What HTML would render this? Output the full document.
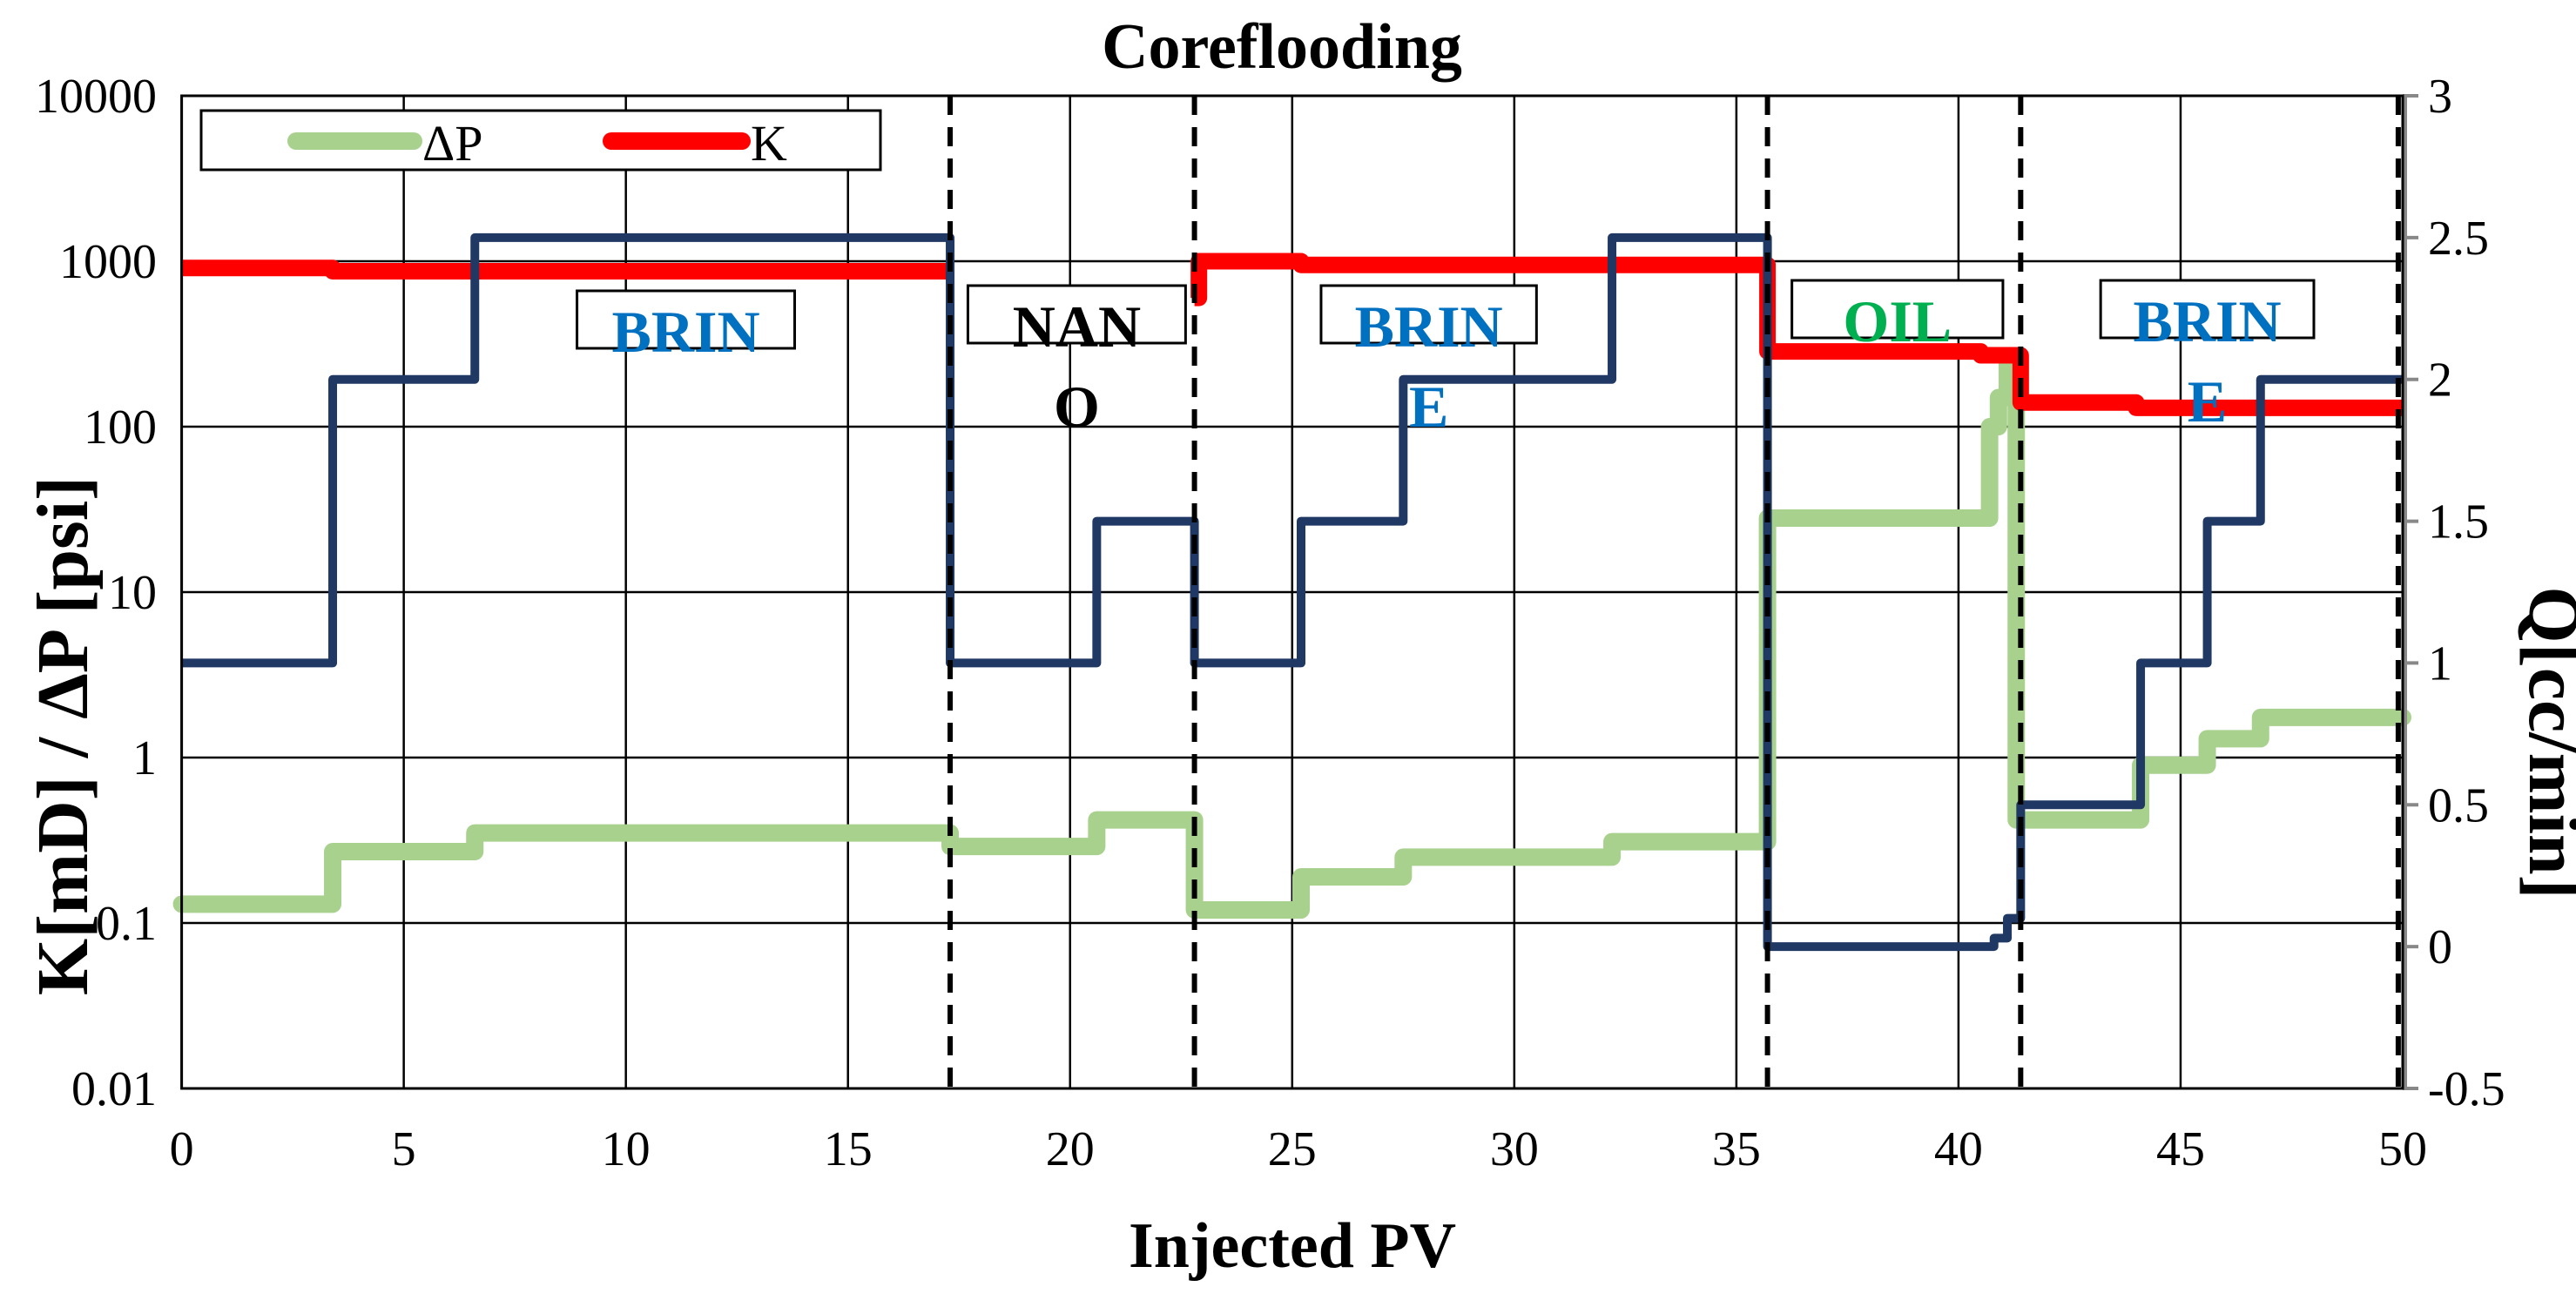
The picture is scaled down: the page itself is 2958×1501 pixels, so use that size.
<!DOCTYPE html>
<html><head><meta charset="utf-8"><style>
html,body{margin:0;padding:0;background:#fff;}
svg{display:block;font-family:"Liberation Serif",serif;}
</style></head><body>
<svg id="chart" width="2958" height="1501" viewBox="0 0 2958 1501">
<g id="grid"></g>
<g id="series"></g>
<g id="annot"></g>
<g id="axes"></g>
<text x="1472" y="78" font-size="74" font-weight="bold" text-anchor="middle">Coreflooding</text>
<text x="1484" y="1455" font-size="74" font-weight="bold" text-anchor="middle">Injected PV</text>
<text transform="translate(100,845) rotate(-90)" font-size="84" font-weight="bold" text-anchor="middle">K[mD] / ΔP [psi]</text>
<text transform="translate(2905,853) rotate(90)" font-size="84" font-weight="bold" text-anchor="middle">Q[cc/min]</text>
<g>
<rect x="231" y="127" width="780" height="68" fill="#fff" stroke="#000" stroke-width="3"/>
<line x1="340" y1="162" x2="475" y2="162" stroke="#a9d18e" stroke-width="20" stroke-linecap="round"/>
<text x="485" y="184" font-size="58">ΔP</text>
<line x1="702" y1="162" x2="852" y2="162" stroke="#ff0000" stroke-width="20" stroke-linecap="round"/>
<text x="862" y="184" font-size="58">K</text>
</g>
</svg>
<script>
const xTicks=[0,5,10,15,20,25,30,35,40,45,50];
const yLogTicks=[0.01,0.1,1,10,100,1000,10000];
const yLogLabels=["0.01","0.1","1","10","100","1000","10000"];
const qTicks=[-0.5,0,0.5,1,1.5,2,2.5,3];
const qLabels=["-0.5","0","0.5","1","1.5","2","2.5","3"];
const dashedX=[17.3,22.8,35.7,41.4,49.9];
const qX=[0,3.4,6.6,17.3,20.6,22.8,25.2,27.5,32.2,35.7,40.8,41.1,41.4,44.1,45.6,46.8,50];
const qV=[1,2,2.5,1,1.5,1,1.5,2,2.5,0,0.03,0.1,0.5,1,1.5,2,2];
const kX=[0,3.4,17.3,22.8,22.9,25.2,35.7,40.5,41.4,44,50];
const kV=[910,870,null,600,1000,950,285,270,140,130,130];
const dpX=[0,3.4,6.6,17.3,20.6,22.8,25.2,27.5,32.2,35.7,40.7,40.9,41.1,41.3,44.1,45.6,46.8,50];
const dpV=[0.13,0.27,0.35,0.29,0.42,0.12,0.19,0.25,0.31,28,100,150,260,0.42,0.9,1.3,1.75,1.75];
const annotations=[
 {x0:8.9,x1:13.8,y:334,lines:["BRIN"],color:"#0070c0"},
 {x0:17.7,x1:22.6,y:328,lines:["NAN","O"],color:"#000"},
 {x0:25.65,x1:30.5,y:328,lines:["BRIN","E"],color:"#0070c0"},
 {x0:36.25,x1:41.0,y:322,lines:["OIL"],color:"#00b050"},
 {x0:43.2,x1:48.0,y:322,lines:["BRIN","E"],color:"#0070c0"}
];
const L=208.6,R=2759,T=110,B=1250;
const X=v=>L+v*(R-L)/50;
const YL=v=>T+(4-Math.log10(v))*(B-T)/6;
const YQ=q=>T+(3-q)*(B-T)/3.5;
const NS="http://www.w3.org/2000/svg";
function mk(tag,attrs,parent){const e=document.createElementNS(NS,tag);for(const k in attrs)e.setAttribute(k,attrs[k]);parent.appendChild(e);return e;}
const grid=document.getElementById('grid'),series=document.getElementById('series'),annot=document.getElementById('annot'),axes=document.getElementById('axes');
xTicks.forEach((t,i)=>{
 const l=mk('line',{x1:X(t),x2:X(t),y1:T,y2:B,stroke:'#000','stroke-width':2.5},grid);
 
 
 const tx=mk('text',{x:X(t),y:1338,'font-size':56,'text-anchor':'middle'},axes);
 tx.textContent=String(t);
 
 
});
yLogTicks.forEach((t,i)=>{
 const l=mk('line',{x1:L,x2:R,y1:YL(t),y2:YL(t),stroke:'#000','stroke-width':2.5},grid);
 
 
 const tx=mk('text',{x:180,y:YL(t)+19,'font-size':56,'text-anchor':'end'},axes);
 tx.textContent=yLogLabels[i];
 
 
});
const ra=mk('line',{x1:R+3,x2:R+3,y1:T,y2:B,stroke:'#888','stroke-width':4},axes);


qTicks.forEach((t,i)=>{
 const tk=mk('line',{x1:R,x2:R+18,y1:YQ(t),y2:YQ(t),stroke:'#888','stroke-width':4},axes);
 
 
 const tx=mk('text',{x:2788,y:YQ(t)+19,'font-size':56,'text-anchor':'start'},axes);
 tx.textContent=qLabels[i];
 
 
});
const frame=mk('rect',{x:L,y:T,width:R-L,height:B-T,fill:'none',stroke:'#000','stroke-width':3},axes);


function stepPath(xs,vs,yf){let d='',open=false;
 for(let i=0;i<xs.length-1;i++){const v=vs[i];
  if(v==null){open=false;continue;}
  const y=yf(v);
  if(!open){d+='M'+X(xs[i])+','+y;open=true;}else d+='L'+X(xs[i])+','+y;
  d+='L'+X(xs[i+1])+','+y;}
 return d;}
const dp=mk('path',{d:stepPath(dpX,dpV,YL),fill:'none',stroke:'#a9d18e','stroke-width':20,'stroke-linejoin':'round','stroke-linecap':'round'},series);


const kp=mk('path',{d:stepPath(kX,kV,YL),fill:'none',stroke:'#ff0000','stroke-width':19,'stroke-linejoin':'round'},series);


const qp=mk('path',{d:stepPath(qX,qV,YQ),fill:'none',stroke:'#203864','stroke-width':10,'stroke-linejoin':'round'},series);


dashedX.forEach(v=>{
 const l=mk('line',{x1:X(v),x2:X(v),y1:T,y2:B,stroke:'#000','stroke-width':6,'stroke-dasharray':'22 14'},series);
 
 
});
annotations.forEach(a=>{
 const r=mk('rect',{x:X(a.x0),y:a.y,width:X(a.x1)-X(a.x0),height:66,fill:'#fff',stroke:'#000','stroke-width':3},annot);
 
 
 a.lines.forEach((s,j)=>{
  const t=mk('text',{x:(X(a.x0)+X(a.x1))/2,y:a.y+70+j*92,'font-size':68,'font-weight':'bold',fill:a.color,'text-anchor':'middle'},annot);
  t.textContent=s;
  
  
 });
});
</script>
</body></html>
